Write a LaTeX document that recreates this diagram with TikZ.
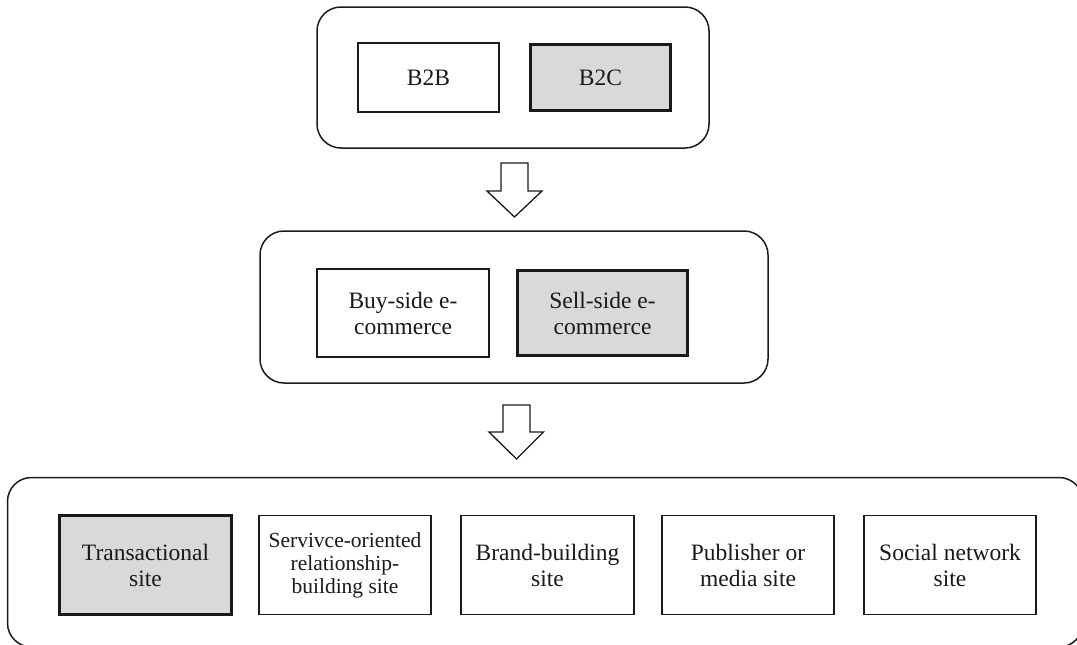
\documentclass[tikz,border=0pt]{standalone}
\usepackage{fontspec}
\setmainfont{Liberation Serif}
\usetikzlibrary{positioning}
\definecolor{boxgray}{HTML}{D9D9D9}
\definecolor{ink}{HTML}{1A1A1A}
\tikzset{
  container/.style={draw=ink, line width=1.5pt, rounded corners=24pt, inner sep=0pt},
  plainbox/.style={draw=ink, line width=1.3pt, fill=white, inner sep=0pt, align=center,
    text=ink, font=\fontsize{23.5}{26}\selectfont},
  hibox/.style={plainbox, fill=boxgray, line width=3.5pt},
  smalltext/.style={font=\fontsize{21.5}{23}\selectfont},
  blockarrow/.style={draw=ink, line width=1.3pt, fill=white, line join=miter}
}
\begin{document}
\begin{tikzpicture}[x=1pt,y=-1pt]
\useasboundingbox (0,0) rectangle (1077,645);
\clip (0,0) rectangle (1077,645);
% containers
\node[container, minimum width=392pt, minimum height=141pt] (top) at (513,77.5) {};
\node[container, minimum width=508pt, minimum height=152pt] (mid) at (514,307) {};
\node[container, minimum width=1075.5pt, minimum height=169.5pt] (bot) at (545.25,562.25) {};
% top boxes
\node[plainbox, minimum width=141pt, minimum height=69pt] (b2b) at (428.5,77.5) {B2B};
\node[hibox, minimum width=140pt, minimum height=66pt] (b2c) at (600.5,77.5) {B2C};
% middle boxes
\node[plainbox, minimum width=172pt, minimum height=88pt] (buy) at (403,313) {Buy-side e-\\commerce};
\node[hibox, minimum width=170pt, minimum height=85pt] (sell) at (602.5,313) {Sell-side e-\\commerce};
% bottom boxes
\node[hibox, minimum width=172pt, minimum height=99pt] (trans) at (145.5,565) {Transactional\\site};
\node[plainbox, smalltext, minimum width=172pt, minimum height=99pt] (serv) at (345,565) {Servivce-oriented\\relationship-\\building site};
\node[plainbox, minimum width=173pt, minimum height=99pt] (brand) at (547.5,565) {Brand-building\\site};
\node[plainbox, minimum width=172pt, minimum height=99pt] (pub) at (748,565) {Publisher or\\media site};
\node[plainbox, minimum width=172pt, minimum height=99pt] (soc) at (950,565) {Social network\\site};
% block arrows
\coordinate (a1) at (514.5,163);
\draw[blockarrow] (a1) ++(-13.5,0) -- ++(27,0) -- ++(0,28) -- ++(14,0) -- (514.5,217) -- (487,191) -- ++(14,0) -- cycle;
\coordinate (a2) at (516.5,405);
\draw[blockarrow] (a2) ++(-13.5,0) -- ++(27,0) -- ++(0,27) -- ++(13.5,0) -- (516.5,459) -- (489,432) -- ++(14,0) -- cycle;
\end{tikzpicture}
\end{document}
